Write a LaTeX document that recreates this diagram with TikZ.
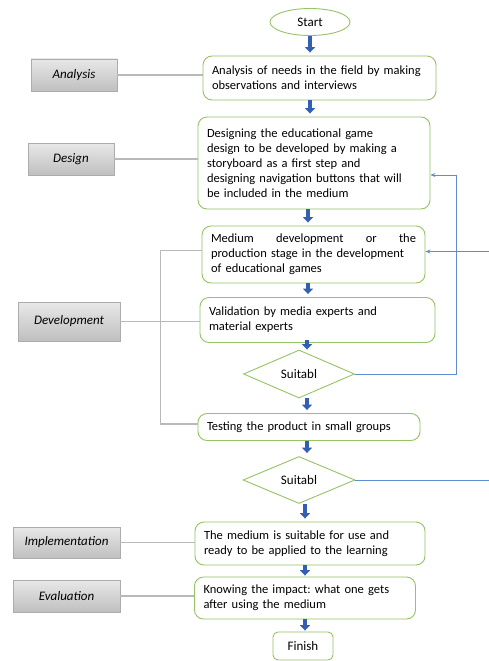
\documentclass[tikz,border=0pt]{standalone}
\usepackage{fontspec}
\setmainfont{Carlito}
\usetikzlibrary{shapes.geometric,arrows.meta}
\frenchspacing
\definecolor{boxgreen}{RGB}{150,195,100}
\definecolor{flowblue}{RGB}{50,95,180}
\definecolor{loopblue}{RGB}{95,140,210}
\tikzset{
	stage/.style={draw=boxgreen, line width=0.9pt, rounded corners=9pt, align=left,
		inner xsep=9pt, inner ysep=3pt, font=\fontsize{12.5}{15}\selectfont},
	phase/.style={draw=gray!65, top color=gray!18, bottom color=gray!50, line width=0.6pt,
		font=\fontsize{13}{15}\selectfont\itshape, inner sep=0pt},
	decide/.style={diamond, draw=boxgreen, line width=0.9pt, aspect=2.3, inner sep=0pt,
		font=\fontsize{13}{15}\selectfont},
	flow/.style={draw=flowblue, line width=3.6pt, -{Triangle[length=5.5pt,width=10pt]},
		shorten >=3pt},
	link/.style={draw=gray!55, line width=1.1pt},
	back/.style={draw=loopblue, line width=0.8pt, -{Stealth[length=5pt,width=4pt]}}
}
\begin{document}
\begin{tikzpicture}[x=1pt,y=-1pt]
\useasboundingbox[fill=white] (0,0) rectangle (488,661);

% main column
\node[ellipse, draw=boxgreen, line width=0.9pt, minimum width=80pt, minimum height=27pt,
	font=\fontsize{13}{15}\selectfont] (start) at (310,22) {Start};
\node[stage, text width=215pt, minimum height=44pt] (ana) at (319.5,78)
	{Analysis of needs in the field by making\\observations and interviews};
\node[stage, text width=214pt, minimum height=92pt] (des) at (314,163)
	{Designing the educational game\\design to be developed by making a\\storyboard as a first step and\\designing navigation buttons that will\\be included in the medium};
\node[stage, text width=205pt, minimum height=57pt] (med) at (313.5,254.5)
	{Medium\hfill development\hfill or\hfill the\\production stage in the development\\of educational games};
\node[stage, text width=217pt, minimum height=45pt] (val) at (317.5,320)
	{Validation by media experts and\\material experts};
\node[decide, minimum width=111pt, minimum height=48pt] (d1) at (299,374) {Suitabl};
\node[stage, text width=204pt, minimum height=27pt] (test) at (309,427)
	{Testing the product in small groups};
\node[decide, minimum width=112pt, minimum height=47pt] (d2) at (299,480) {Suitabl};
\node[stage, text width=212pt, minimum height=43pt] (imp) at (310,543.5)
	{The medium is suitable for use and\\ready to be applied to the learning};
\node[stage, text width=203pt, minimum height=42pt] (eva) at (305,598)
	{Knowing the impact: what one gets\\after using the medium};
\node[stage, rounded corners=5pt, align=center, font=\fontsize{13}{15}\selectfont,
	minimum width=60pt, minimum height=28pt] (fin) at (303,646) {Finish};

% phases
\node[phase, minimum width=86pt, minimum height=32pt] (lana) at (74,75) {Analysis};
\node[phase, minimum width=86pt, minimum height=32pt] (ldes) at (71,159) {Design};
\node[phase, minimum width=102pt, minimum height=39pt] (ldev) at (69,321.5) {Development};
\node[phase, minimum width=107pt, minimum height=31pt] (limp) at (66.5,542.5) {Implementation};
\node[phase, minimum width=107pt, minimum height=32pt] (leva) at (66.5,596) {Evaluation};

\draw[link] (lana.east) -- (lana.east -| ana.west);
\draw[link] (ldes.east) -- (ldes.east -| des.west);
\draw[link] (ldev.east) -- (ldev.east -| val.west);
\draw[link] (limp.east) -- (limp.east -| imp.west);
\draw[link] (leva.east) -- (leva.east -| eva.west);
\draw[link] ([yshift=4pt]med.west) -- ++(-41,0) |- ([yshift=3pt]test.west);

% flow arrows
\draw[flow] (start.south) -- (start.south |- ana.north);
\draw[flow] (ana.south -| start) -- (des.north -| start);
\draw[flow] (des.south -| 308,0) -- (med.north -| 308,0);
\draw[flow] (med.south -| 308,0) -- (val.north -| 308,0);
\draw[flow, shorten >=0pt] ([yshift=3pt]val.south -| 307,0) -- (d1.north -| 307,0);
\draw[flow] (d1.south -| 307,0) -- (test.north -| 307,0);
\draw[flow] (test.south -| 307,0) -- (d2.north -| 307,0);
\draw[flow] (d2.south -| 305,0) -- (imp.north -| 305,0);
\draw[flow, shorten >=1pt] (imp.south -| 305,0) -- (eva.north -| 305,0);
\draw[flow, shorten >=1pt] (eva.south -| 305,0) -- (fin.north -| 305,0);

% loops back
\coordinate (r1) at (456,0);
\coordinate (r2) at (496,0);
\draw[back] (d1.east) -- (d1.east -| r1) |- ([yshift=-12pt]des.east);
\draw[back] (d2.east) -- (d2.east -| r2) |- ([yshift=3pt]med.east);
\end{tikzpicture}
\end{document}
